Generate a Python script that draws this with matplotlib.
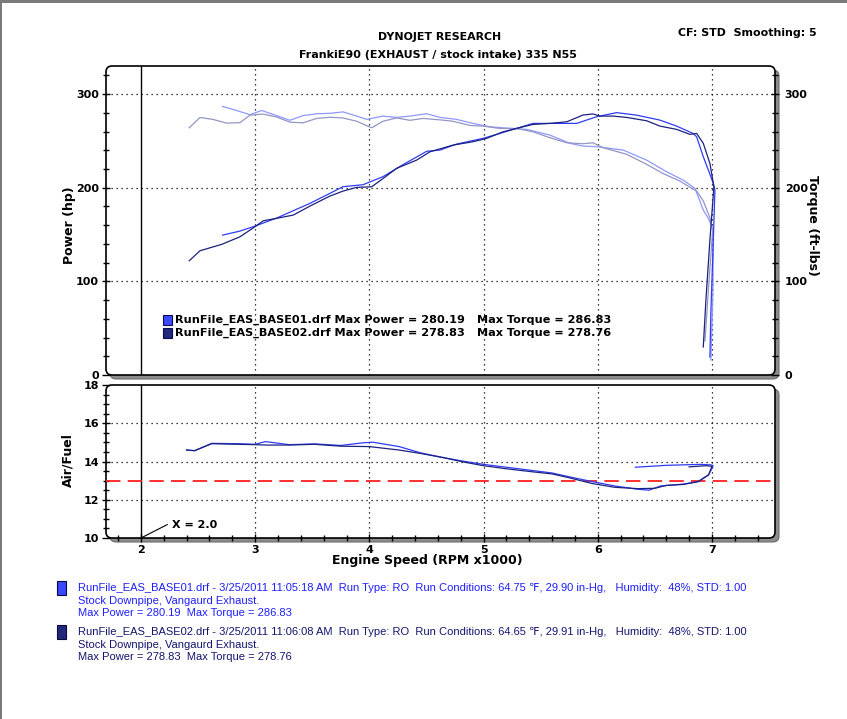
import matplotlib
matplotlib.use('Agg')
import matplotlib.pyplot as plt
from matplotlib.patches import FancyBboxPatch, Rectangle
from matplotlib.transforms import IdentityTransform
from matplotlib.ticker import MultipleLocator

# --- datos ---
# BASE01 potencia (hp)
rpm_p1 = [2.715, 2.867, 2.998, 3.188, 3.480, 3.655, 3.769, 3.944, 4.119, 4.294, 4.502, 4.618,
          4.764, 4.995, 5.144, 5.290, 5.433, 5.608, 5.815, 5.990, 6.165, 6.341, 6.545, 6.691,
          6.834, 6.866, 6.924, 6.968, 7.011, 7.026, 7.009, 6.991, 6.982]
hp_p1 = [149.4, 153.7, 159.0, 167.6, 183.3, 194.0, 201.1, 203.2, 211.8, 224.6, 238.9, 240.2,
         246.6, 252.7, 258.0, 263.4, 268.7, 268.7, 268.7, 275.8, 280.2, 277.5, 272.2, 265.8,
         258.0, 254.4, 233.1, 219.0, 204.8, 197.4, 133.4, 69.4, 19.2]

# BASE02 potencia (hp)
rpm_p2 = [2.423, 2.517, 2.707, 2.867, 2.998, 3.071, 3.188, 3.334, 3.480, 3.655, 3.769, 3.889,
          4.020, 4.122, 4.239, 4.414, 4.531, 4.732, 4.907, 5.027, 5.170, 5.290, 5.433, 5.581,
          5.728, 5.870, 5.958, 6.019, 6.136, 6.253, 6.428, 6.545, 6.691, 6.807, 6.866, 6.924,
          6.982, 7.017, 6.982, 6.947, 6.924]
hp_p2 = [122.0, 132.7, 139.5, 147.6, 158.3, 164.7, 167.3, 170.8, 180.4, 191.1, 196.4, 200.4,
         201.0, 210.0, 220.7, 229.5, 238.4, 245.5, 249.1, 252.7, 259.7, 263.4, 267.6, 268.7,
         270.4, 277.6, 278.8, 276.5, 276.5, 275.1, 271.5, 265.8, 262.3, 257.0, 258.0, 247.4,
         226.0, 201.0, 144.1, 80.1, 29.9]

# BASE01 torque (ft-lbs)
rpm_t1 = [2.715, 2.838, 2.954, 3.057, 3.188, 3.305, 3.419, 3.539, 3.655, 3.769, 3.889, 3.976,
          4.119, 4.239, 4.356, 4.502, 4.618, 4.764, 4.907, 5.056, 5.231, 5.377, 5.581, 5.756,
          5.870, 6.002, 6.223, 6.428, 6.603, 6.749, 6.851, 6.880, 6.924, 6.968, 7.011, 7.009,
          6.991]
tq_t1 = [286.8, 282.5, 278.0, 282.5, 277.0, 272.0, 277.0, 279.0, 279.5, 281.0, 276.5, 273.0,
         276.5, 275.1, 276.5, 279.0, 275.1, 273.0, 268.7, 265.1, 263.4, 262.3, 256.2, 247.4,
         244.5, 243.7, 240.2, 229.5, 217.0, 208.1, 199.3, 190.3, 176.1, 167.3, 155.0, 90.7,
         16.0]

# BASE02 torque (ft-lbs)
rpm_t2 = [2.423, 2.517, 2.630, 2.750, 2.867, 2.954, 3.068, 3.188, 3.305, 3.419, 3.539, 3.655,
          3.769, 3.889, 4.020, 4.119, 4.239, 4.356, 4.469, 4.618, 4.732, 4.881, 4.995, 5.144,
          5.290, 5.433, 5.581, 5.728, 5.870, 5.958, 6.048, 6.253, 6.428, 6.574, 6.720, 6.836,
          6.866, 6.924, 6.982, 7.006, 6.974, 6.939]
tq_t2 = [264.0, 275.0, 273.0, 269.0, 269.5, 277.5, 278.7, 275.5, 270.0, 269.3, 274.0, 275.3,
         274.5, 271.0, 264.0, 271.0, 274.5, 272.0, 274.0, 272.5, 271.0, 266.5, 265.8, 263.3,
         263.3, 259.7, 253.4, 248.0, 247.0, 248.0, 242.7, 235.7, 225.0, 215.0, 207.1, 198.3,
         196.5, 185.9, 168.0, 154.0, 100.4, 36.4]

# Air/Fuel
rpm_a1 = [2.40, 2.47, 2.62, 2.85, 3.00, 3.09, 3.30, 3.52, 3.75, 3.95, 4.03, 4.26, 4.45, 4.65,
          4.82, 5.00, 5.20, 5.40, 5.60, 5.75, 5.95, 6.15, 6.35, 6.45, 6.55, 6.75, 6.88, 6.97,
          7.01, 7.00, 6.90, 6.60, 6.33]
afr_1 = [14.60, 14.56, 14.95, 14.93, 14.90, 15.04, 14.88, 14.92, 14.84, 14.98, 15.01, 14.78,
         14.45, 14.20, 14.02, 13.85, 13.70, 13.55, 13.40, 13.20, 12.95, 12.72, 12.55, 12.50,
         12.72, 12.82, 12.95, 13.30, 13.75, 13.82, 13.85, 13.80, 13.70]
rpm_a2 = [2.40, 2.47, 2.62, 2.85, 3.00, 3.10, 3.30, 3.52, 3.75, 4.00, 4.26, 4.45, 4.65, 4.82,
          5.00, 5.20, 5.40, 5.60, 5.75, 5.95, 6.15, 6.35, 6.50, 6.60, 6.75, 6.88, 6.97, 7.00,
          6.95, 6.80]
afr_2 = [14.60, 14.57, 14.93, 14.90, 14.88, 14.86, 14.86, 14.90, 14.80, 14.78, 14.60, 14.42,
         14.20, 13.98, 13.78, 13.62, 13.48, 13.35, 13.15, 12.85, 12.65, 12.58, 12.60, 12.75,
         12.80, 12.95, 13.30, 13.75, 13.78, 13.72]

afr_ref = 13.0
cursor_x = 2.0

# colores
c_p1 = '#2f3cf5'
c_p2 = '#1c2280'
c_t1 = '#8e98ff'
c_t2 = '#9496c4'
c_txt1 = '#1f1fff'
c_txt2 = '#15156e'

W, H = 847, 719
fig = plt.figure(figsize=(W / 100, H / 100), dpi=100)

narrow = ['Liberation Sans Narrow', 'DejaVu Sans']


def caja(x0, ytop, x1, ybot):
    # marco redondeado con sombra gris (coordenadas en pixeles)
    sh = FancyBboxPatch((x0 + 4, H - ybot - 4), x1 - x0, ybot - ytop,
                        boxstyle='round,pad=0,rounding_size=6', transform=IdentityTransform(),
                        facecolor='#8c8c8c', edgecolor='#6f6f6f', lw=0.8, zorder=-3)
    bx = FancyBboxPatch((x0, H - ybot), x1 - x0, ybot - ytop,
                        boxstyle='round,pad=0,rounding_size=6', transform=IdentityTransform(),
                        facecolor='white', edgecolor='black', lw=1.2, zorder=-2)
    fig.add_artist(sh)
    fig.add_artist(bx)
    return fig.add_axes([x0 / W, 1 - ybot / H, (x1 - x0) / W, (ybot - ytop) / H])


# borde de pagina
fig.add_artist(Rectangle((0, H - 3), W, 3, transform=IdentityTransform(), color='#7a7a7a', lw=0))
fig.add_artist(Rectangle((0, 0), 1.5, H, transform=IdentityTransform(), color='#7a7a7a', lw=0))

ax = caja(106, 66, 775, 375)
ax2 = caja(106, 385, 775, 538)

for a in (ax, ax2):
    a.set_facecolor('none')
    for s in a.spines.values():
        s.set_visible(False)
    a.set_xlim(1.694, 7.552)
    a.axvline(cursor_x, color='black', lw=1.0)
    for xg in [3, 4, 5, 6, 7]:
        a.axvline(xg, color='black', lw=0.9, ls=(0, (1, 3)))

# --- grafico superior ---
ax.set_ylim(0, 330)
for yg in [100, 200, 300]:
    ax.axhline(yg, color='black', lw=0.9, ls=(0, (1, 3)))
ax.plot(rpm_t1, tq_t1, color=c_t1, lw=0.9)
ax.plot(rpm_t2, tq_t2, color=c_t2, lw=0.9)
ax.plot(rpm_p1, hp_p1, color=c_p1, lw=0.9)
ax.plot(rpm_p2, hp_p2, color=c_p2, lw=0.9)
ax.set_xticks([])
ax.yaxis.set_major_locator(MultipleLocator(100))
ax.yaxis.set_minor_locator(MultipleLocator(20))
ax.tick_params(axis='y', which='both', direction='inout', length=6, width=1, labelsize=8, pad=2)
ax.tick_params(axis='y', which='minor', length=5)
for t in ax.get_yticklabels():
    t.set_fontweight('bold')

axr = ax.twinx()
axr.set_ylim(0, 330)
for s in axr.spines.values():
    s.set_visible(False)
axr.yaxis.set_major_locator(MultipleLocator(100))
axr.yaxis.set_minor_locator(MultipleLocator(20))
axr.tick_params(axis='y', which='both', direction='inout', length=6, width=1, labelsize=8, pad=4)
axr.tick_params(axis='y', which='minor', length=5)
for t in axr.get_yticklabels():
    t.set_fontweight('bold')

# leyenda del grafico superior
leg = [('RunFile_EAS_BASE01.drf Max Power = 280.19', 'Max Torque = 286.83', '#3a48ff', 0.178),
       ('RunFile_EAS_BASE02.drf Max Power = 278.83', 'Max Torque = 278.76', '#22287a', 0.136)]
for txt, txt2, col, yy in leg:
    ax.add_patch(Rectangle((0.085, yy - 0.017), 0.014, 0.034, transform=ax.transAxes,
                           facecolor=col, edgecolor='#0a0a50', lw=0.8))
    ax.text(0.103, yy, txt, transform=ax.transAxes, va='center', fontweight='bold', fontsize=8.1)
    ax.text(0.5546, yy, txt2, transform=ax.transAxes, va='center', fontweight='bold', fontsize=8.1)

# --- grafico inferior ---
ax2.set_ylim(10, 18)
for yg in [12, 14, 16]:
    ax2.axhline(yg, color='black', lw=0.9, ls=(0, (1, 3)))
ax2.axhline(afr_ref, color='#ff2020', lw=1.3, ls=(0, (8, 4)))
ax2.plot(rpm_a1, afr_1, color=c_p1, lw=0.9)
ax2.plot(rpm_a2, afr_2, color=c_p2, lw=0.9)
ax2.yaxis.set_major_locator(MultipleLocator(2))
ax2.yaxis.set_minor_locator(MultipleLocator(0.5))
ax2.xaxis.set_major_locator(MultipleLocator(1))
ax2.xaxis.set_minor_locator(MultipleLocator(0.2))
ax2.tick_params(which='both', direction='inout', length=6, width=1, labelsize=8, pad=2)
ax2.tick_params(which='minor', length=5)
for t in ax2.get_yticklabels() + ax2.get_xticklabels():
    t.set_fontweight('bold')
ax2.plot([cursor_x, 2.23], [10.0, 10.7], color='black', lw=0.8)
ax2.text(2.27, 10.7, 'X = 2.0', va='center', ha='left', family=narrow, fontweight='bold', fontsize=8)

# --- textos ---
fig.text(0.519, 0.9485, 'DYNOJET RESEARCH', ha='center', va='center', family=narrow,
         fontweight='bold', fontsize=7.9)
fig.text(0.517, 0.9235, 'FrankiE90 (EXHAUST / stock intake) 335 N55', ha='center', va='center',
         family=narrow, fontweight='bold', fontsize=8)
fig.text(0.9646, 0.954, 'CF: STD  Smoothing: 5', ha='right', va='center', family=narrow,
         fontweight='bold', fontsize=7.9)
fig.text(0.0826, 0.687, 'Power (hp)', rotation=90, ha='center', va='center', fontweight='bold',
         fontsize=9)
fig.text(0.9587, 0.687, 'Torque (ft-lbs)', rotation=-90, ha='center', va='center',
         fontweight='bold', fontsize=9)
fig.text(0.0803, 0.36, 'Air/Fuel', rotation=90, ha='center', va='center', fontweight='bold',
         fontsize=9)
fig.text(0.504, 0.221, 'Engine Speed (RPM x1000)', ha='center', va='center', family=narrow,
         fontweight='bold', fontsize=9)

# leyenda inferior
bloques = [
    (['RunFile_EAS_BASE01.drf - 3/25/2011 11:05:18 AM  Run Type: RO  Run Conditions: 64.75 \u2109, 29.90 in-Hg,   Humidity:  48%, STD: 1.00',
      'Stock Downpipe, Vangaurd Exhaust.',
      'Max Power = 280.19  Max Torque = 286.83'], c_txt1, '#3a48ff', 588),
    (['RunFile_EAS_BASE02.drf - 3/25/2011 11:06:08 AM  Run Type: RO  Run Conditions: 64.65 \u2109, 29.91 in-Hg,   Humidity:  48%, STD: 1.00',
      'Stock Downpipe, Vangaurd Exhaust.',
      'Max Power = 278.83  Max Torque = 278.76'], c_txt2, '#22287a', 632),
]
for lineas, col, sq, y0 in bloques:
    fig.add_artist(Rectangle((57, H - y0 - 7), 9, 14, transform=IdentityTransform(),
                             facecolor=sq, edgecolor='#0a0a40', lw=0.8))
    for i, l in enumerate(lineas):
        fig.text(78 / W, 1 - (y0 + i * 12.6) / H, l, ha='left', va='center', color=col,
                 family=['Liberation Sans Narrow', 'Liberation Sans', 'DejaVu Sans'], fontsize=8.0)

fig.savefig('out.png', dpi=100)
